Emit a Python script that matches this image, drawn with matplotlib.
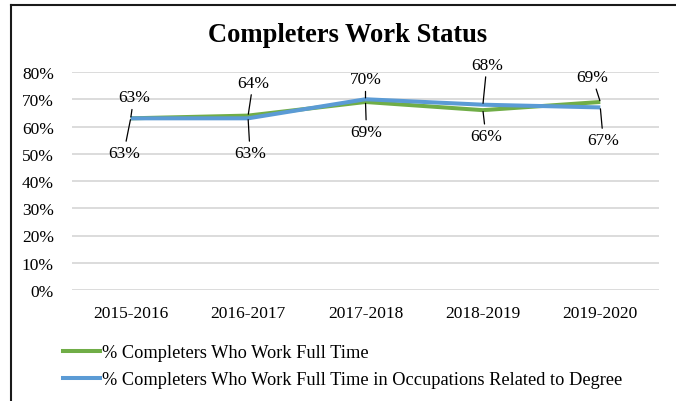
import matplotlib
matplotlib.use("Agg")
import matplotlib.pyplot as plt
from matplotlib.lines import Line2D
from matplotlib.ticker import FuncFormatter

plt.rcParams['font.family'] = ['Liberation Serif', 'DejaVu Serif']

years = ["2015-2016", "2016-2017", "2017-2018", "2018-2019", "2019-2020"]
full_time = [63, 64, 69, 66, 69]
related = [63, 63, 70, 68, 67]
series_names = ["% Completers Who Work Full Time",
                "% Completers Who Work Full Time in Occupations Related to Degree"]

GREEN = "#70AD47"
BLUE = "#5B9BD5"

W, H, DPI = 676, 402, 100
fig = plt.figure(figsize=(W / DPI, H / DPI), dpi=DPI)

# plot area in pixels: left 72, right 659, top 73, bottom 291
L, R, T, B = 72, 659, 73, 291
ax = fig.add_axes([L / W, 1 - B / H, (R - L) / W, (B - T) / H])

x = list(range(len(years)))
ax.plot(x, full_time, color=GREEN, lw=2.9, solid_capstyle='butt', zorder=3)
ax.plot(x, related, color=BLUE, lw=2.9, solid_capstyle='butt', zorder=4)

ax.set_xlim(-0.5, len(years) - 0.5)
ax.set_ylim(0, 80)
ax.set_yticks(range(0, 81, 10))
ax.yaxis.set_major_formatter(FuncFormatter(lambda v, p: f"{int(v)}%"))
ax.set_xticks(x)
ax.set_xticklabels(years)
ax.tick_params(axis='both', length=0, labelsize=12.5)
ax.tick_params(axis='y', pad=13)
ax.tick_params(axis='x', pad=11)
ax.grid(axis='y', color='#D9D9D9', lw=1.3, zorder=0)
for s in ax.spines.values():
    s.set_visible(False)
ax.set_facecolor('none')

# data labels with leader lines (offsets in pixels: dx, dy)
green_offsets = [(3, 21), (5, 33), (1, -30), (3, -26), (-8, 25)]
blue_offsets = [(-7, -35), (2, -35), (0, 20), (4, 40), (3, -33)]
for vals, offs in ((full_time, green_offsets), (related, blue_offsets)):
    for i, (v, (dx, dy)) in enumerate(zip(vals, offs)):
        ax.annotate(f"{v}%", xy=(i, v), xytext=(dx, dy), textcoords='offset pixels',
                    ha='center', va='center', fontsize=12.5, zorder=5,
                    arrowprops=dict(arrowstyle='-', color='black', lw=0.9,
                                    shrinkA=1, shrinkB=1))

fig.text(348 / W, 1 - 36 / H, "Completers Work Status", ha='center', va='center',
         fontsize=19.1, fontweight='bold')

handles = [Line2D([], [], color=GREEN, lw=2.9), Line2D([], [], color=BLUE, lw=2.9)]
fig.legend(handles, series_names, loc='upper left',
           bbox_to_anchor=(63 / W, 1 - 345 / H), frameon=False, fontsize=13.2,
           handlelength=2.0, handletextpad=0.15, labelspacing=0.55,
           borderpad=0, borderaxespad=0)

# chart frame edges
fig.add_artist(Line2D([10.5 / W, 1], [1 - 5.5 / H, 1 - 5.5 / H], color='#1a1a1a', lw=1.5))
fig.add_artist(Line2D([10.5 / W, 10.5 / W], [0, 1 - 5.5 / H], color='#1a1a1a', lw=1.5))

fig.savefig("out.png", dpi=DPI)
